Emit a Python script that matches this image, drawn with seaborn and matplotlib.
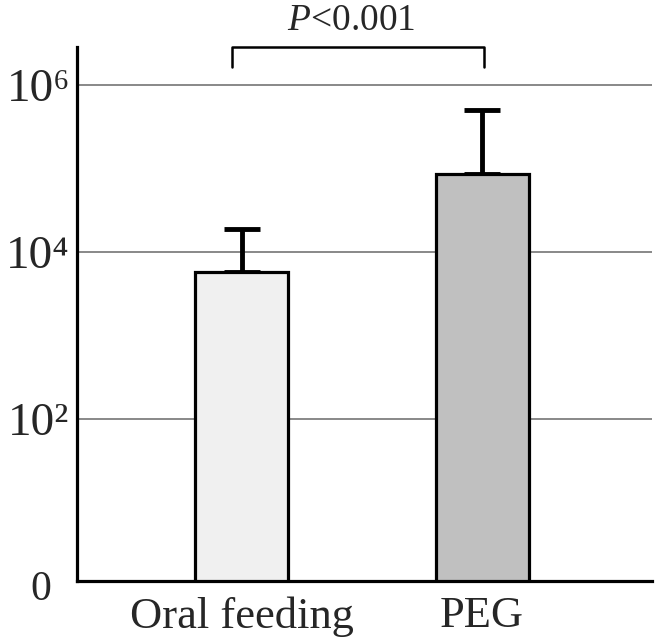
import numpy as np
import pandas as pd
import matplotlib
matplotlib.use("Agg")
import matplotlib.pyplot as plt
import seaborn as sns

# values (log scale)
groups = ["Oral feeding", "PEG"]
means = [5800, 86000]
upper = [18800, 500000]
bar_colors = ["#f0f0f0", "#c0c0c0"]
grid_ticks = [1e2, 1e4, 1e6]
tick_labels = ["10\u00b2", "10\u2074", "10\u2076"]
p_text = r"$P$<0.001"

sns.set_style("white")
plt.rcParams["font.family"] = ["Liberation Serif", "DejaVu Serif"]
plt.rcParams["mathtext.fontset"] = "custom"
plt.rcParams["mathtext.rm"] = "Liberation Serif"
plt.rcParams["mathtext.it"] = "Liberation Serif:italic"

df = pd.DataFrame({"group": groups, "mean": means})
ybottom = 10 ** 0.06
ytop = 10 ** 6.455

fig = plt.figure(figsize=(6.6, 6.41), dpi=100)
ax = fig.add_axes([0.1167, 0.0936, 0.8713, 0.8331])
ax.set_yscale("log")

for y in grid_ticks:
    ax.axhline(y, color="#888888", lw=1.4, zorder=0)

sns.barplot(data=df, x="group", y="mean", hue="group", palette=bar_colors,
            width=0.387, edgecolor="black", linewidth=2.3, legend=False,
            ax=ax, zorder=2)

err = np.array(upper) - np.array(means)
ax.errorbar(range(len(groups)), means, yerr=[np.zeros(len(err)), err],
            fmt="none", ecolor="black", elinewidth=3.5, capsize=13,
            capthick=3.5, zorder=1)

ax.set_ylim(ybottom, ytop)
ax.set_xlim(-0.684, 1.707)
ax.set_yticks(grid_ticks)
ax.set_yticklabels(tick_labels)
ax.minorticks_off()
ax.tick_params(axis="y", length=0, pad=28, labelsize=34)
ax.tick_params(axis="x", length=0, pad=11, labelsize=32)
for lab in ax.get_yticklabels():
    lab.set_horizontalalignment("center")
ax.set_xlabel("")
ax.set_ylabel("")
# the baseline value is labelled "0"
ax.text(-0.063, -0.017, "0", transform=ax.transAxes, ha="center",
        va="center", fontsize=30)

for s in ["top", "right"]:
    ax.spines[s].set_visible(False)
for s in ["left", "bottom"]:
    ax.spines[s].set_linewidth(2.3)
    ax.spines[s].set_color("black")

# significance bracket
yb = 10 ** 6.455
yl = 10 ** 6.216
ax.plot([0 - 0.04, 0 - 0.04, 1 + 0.01, 1 + 0.01], [yl, yb, yb, yl],
        color="black", lw=1.8, clip_on=False)
ax.text(0.455, 10 ** 6.56, p_text, ha="center", va="bottom", fontsize=27)

fig.savefig("out.png", dpi=100)
